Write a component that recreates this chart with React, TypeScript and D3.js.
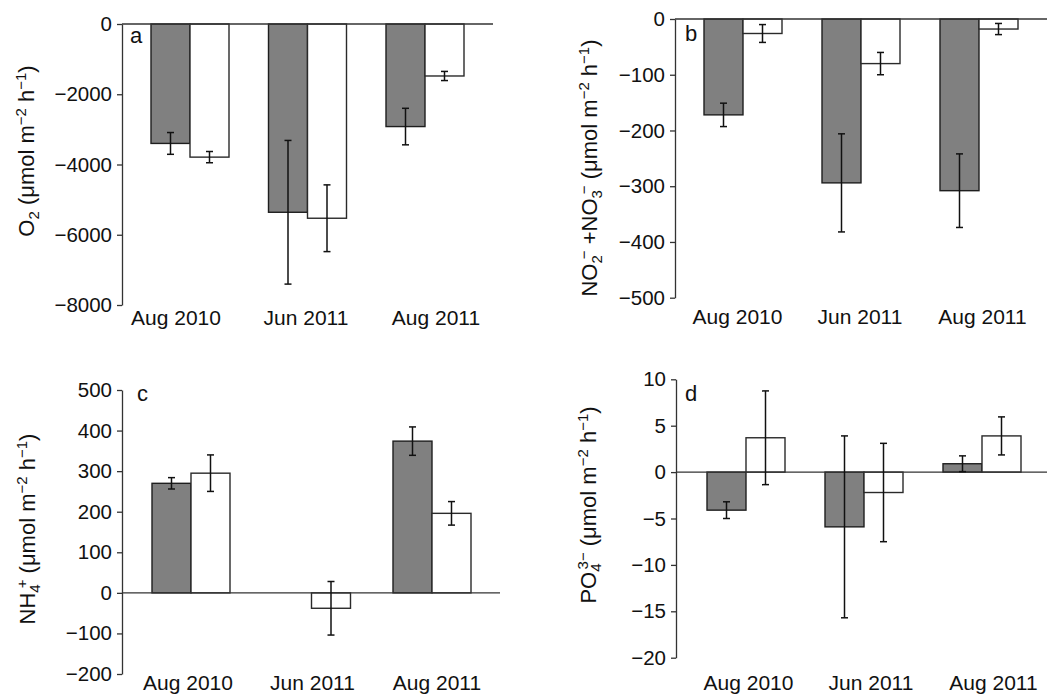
import React, { useEffect, useRef } from 'react';
import * as d3 from 'd3';

// sampling dates
const categories = ['Aug 2010', 'Jun 2011', 'Aug 2011'];

// O2 flux (µmol m-2 h-1)
const o2Grey = [-3400, -5360, -2920];
const o2GreyErr = [310, 2045, 520];
const o2White = [-3790, -5530, -1480];
const o2WhiteErr = [160, 950, 130];
const o2Ticks = [0, -2000, -4000, -6000, -8000];

// NO2- + NO3- flux
const noxGrey = [-172, -294, -308];
const noxGreyErr = [21, 88, 66];
const noxWhite = [-26, -80, -18];
const noxWhiteErr = [16, 20, 10];
const noxTicks = [0, -100, -200, -300, -400, -500];

// NH4+ flux (no grey bar in Jun 2011)
const nh4Grey = [270, null, 374];
const nh4GreyErr = [14, null, 35];
const nh4White = [295, -38, 196];
const nh4WhiteErr = [45, 66, 29];
const nh4Ticks = [500, 400, 300, 200, 100, 0, -100, -200];

// PO4 3- flux
const po4Grey = [-4.1, -5.9, 0.9];
const po4GreyErr = [0.9, 9.8, 0.85];
const po4White = [3.7, -2.2, 3.9];
const po4WhiteErr = [5.05, 5.3, 2.05];
const po4Ticks = [10, 5, 0, -5, -10, -15, -20];

type Part = { t: string; sub?: boolean; sup?: boolean; stack?: number };

const unit: Part[] = [
  { t: ' (\u03bcmol m' },
  { t: '\u22122', sup: true },
  { t: ' h' },
  { t: '\u22121', sup: true },
  { t: ')' },
];

const panels = [
  {
    letter: 'a', grey: o2Grey, greyErr: o2GreyErr, white: o2White, whiteErr: o2WhiteErr,
    ticks: o2Ticks, domain: [-8000, 0], yTop: 24, yBottom: 305, axisX: 122, zeroEnd: 493,
    bars: [190, 425], labels: [176, 436], labelY: 325, letterX: 130, letterY: 43,
    titleX: 27, titleY: 151,
    title: [{ t: 'O' }, { t: '2', sub: true }, ...unit] as Part[],
  },
  {
    letter: 'b', grey: noxGrey, greyErr: noxGreyErr, white: noxWhite, whiteErr: noxWhiteErr,
    ticks: noxTicks, domain: [-500, 0], yTop: 19, yBottom: 297.7, axisX: 675, zeroEnd: 1047,
    bars: [743, 979], labels: [737.5, 982.5], labelY: 324, letterX: 685, letterY: 41,
    titleX: 590, titleY: 168,
    title: [
      { t: 'NO' }, { t: '2', sub: true }, { t: '\u2212', sup: true, stack: 4 },
      { t: ' +NO' }, { t: '3', sub: true }, { t: '\u2212', sup: true, stack: 4 },
      ...unit,
    ] as Part[],
  },
  {
    letter: 'c', grey: nh4Grey, greyErr: nh4GreyErr, white: nh4White, whiteErr: nh4WhiteErr,
    ticks: nh4Ticks, domain: [-200, 500], yTop: 390, yBottom: 674, axisX: 122, zeroEnd: 500,
    bars: [191, 432], labels: [188, 437], labelY: 690, letterX: 137, letterY: 401,
    titleX: 28, titleY: 529,
    title: [{ t: 'NH' }, { t: '4', sub: true }, { t: '+', sup: true, stack: 4 }, ...unit] as Part[],
  },
  {
    letter: 'd', grey: po4Grey, greyErr: po4GreyErr, white: po4White, whiteErr: po4WhiteErr,
    ticks: po4Ticks, domain: [-20, 10], yTop: 379.3, yBottom: 657.7, axisX: 676, zeroEnd: 1047,
    bars: [746, 982], labels: [748.5, 993.5], labelY: 690, letterX: 685, letterY: 401,
    titleX: 589, titleY: 505,
    title: [{ t: 'PO' }, { t: '4', sub: true }, { t: '3\u2212', sup: true, stack: 6 }, ...unit] as Part[],
  },
];

const FONT = '"Liberation Sans", Arial, Helvetica, sans-serif';

const App = () => {
  const svgRef = useRef<SVGSVGElement>(null);

  useEffect(() => {
    const svg = d3.select(svgRef.current);
    svg.selectAll('*').remove();
    const bw = 39;

    panels.forEach((p) => {
      const y = d3.scaleLinear().domain(p.domain).range([p.yBottom, p.yTop]);
      const x = d3.scalePoint<string>().domain(categories).range(p.bars as [number, number]);
      const xl = d3.scalePoint<string>().domain(categories).range(p.labels as [number, number]);
      const g = svg.append('g');

      // y axis
      const ax = g.append('g')
        .attr('transform', `translate(${p.axisX},0)`)
        .call(
          d3.axisLeft(y)
            .tickValues(p.ticks)
            .tickFormat(d3.format('d') as any)
            .tickSize(5)
            .tickSizeOuter(0)
            .tickPadding(5),
        );
      ax.attr('font-family', FONT).attr('font-size', 20.5);
      ax.select('.domain').attr('stroke', '#333').attr('stroke-width', 1.3);
      ax.selectAll('.tick line').attr('stroke', '#333').attr('stroke-width', 1.3);
      ax.selectAll('.tick text').attr('fill', '#111');

      // bars
      const series = [
        { vals: p.grey, errs: p.greyErr, fill: '#808080', stroke: '#1e1e1e', off: -bw },
        { vals: p.white, errs: p.whiteErr, fill: '#ffffff', stroke: '#2a2a2a', off: 0 },
      ];
      series.forEach((s) => {
        s.vals.forEach((v, i) => {
          if (v == null) return;
          const x0 = (x(categories[i]) as number) + s.off;
          g.append('rect')
            .attr('x', x0)
            .attr('y', Math.min(y(v), y(0)))
            .attr('width', bw)
            .attr('height', Math.abs(y(v) - y(0)))
            .attr('fill', s.fill)
            .attr('stroke', s.stroke)
            .attr('stroke-width', 1.4);
        });
      });

      // zero line
      g.append('line')
        .attr('x1', p.axisX).attr('x2', p.zeroEnd)
        .attr('y1', y(0)).attr('y2', y(0))
        .attr('stroke', '#333').attr('stroke-width', 1.3);

      // error bars
      series.forEach((s) => {
        s.vals.forEach((v, i) => {
          const e = s.errs[i];
          if (v == null || e == null) return;
          const cx = (x(categories[i]) as number) + s.off + bw / 2;
          const eg = g.append('g').attr('stroke', '#111').attr('stroke-width', 1.5);
          eg.append('line').attr('x1', cx).attr('x2', cx).attr('y1', y(v - e)).attr('y2', y(v + e));
          [v - e, v + e].forEach((yy) => {
            eg.append('line').attr('x1', cx - 3.5).attr('x2', cx + 3.5).attr('y1', y(yy)).attr('y2', y(yy));
          });
        });
      });

      // x labels
      categories.forEach((c) => {
        g.append('text')
          .attr('x', xl(c) as number)
          .attr('y', p.labelY)
          .attr('text-anchor', 'middle')
          .attr('font-family', FONT)
          .attr('font-size', 21)
          .attr('fill', '#111')
          .text(c);
      });

      // panel letter
      g.append('text')
        .attr('x', p.letterX).attr('y', p.letterY)
        .attr('font-family', FONT).attr('font-size', 22).attr('fill', '#111')
        .text(p.letter);

      // y title
      const t = g.append('text')
        .attr('transform', `translate(${p.titleX + 7},${p.titleY}) rotate(-90)`)
        .attr('text-anchor', 'middle')
        .attr('font-family', FONT)
        .attr('font-size', 22)
        .attr('fill', '#111');
      let shift = 0;
      p.title.forEach((part) => {
        const ts = t.append('tspan').text(part.t);
        let target = 0;
        if (part.sub) target = 5;
        if (part.sup) target = -8;
        ts.attr('dy', target - shift);
        if (part.stack) ts.attr('dx', -part.stack);
        if (part.sub || part.sup) ts.attr('font-size', 15);
        shift = target;
      });
    });
  }, []);

  return (
    <div style={{ position: 'absolute', left: 0, top: 0 }}>
      <svg ref={svgRef} width={1053} height={694} style={{ display: 'block', background: '#fff' }} />
    </div>
  );
};

export default App;
